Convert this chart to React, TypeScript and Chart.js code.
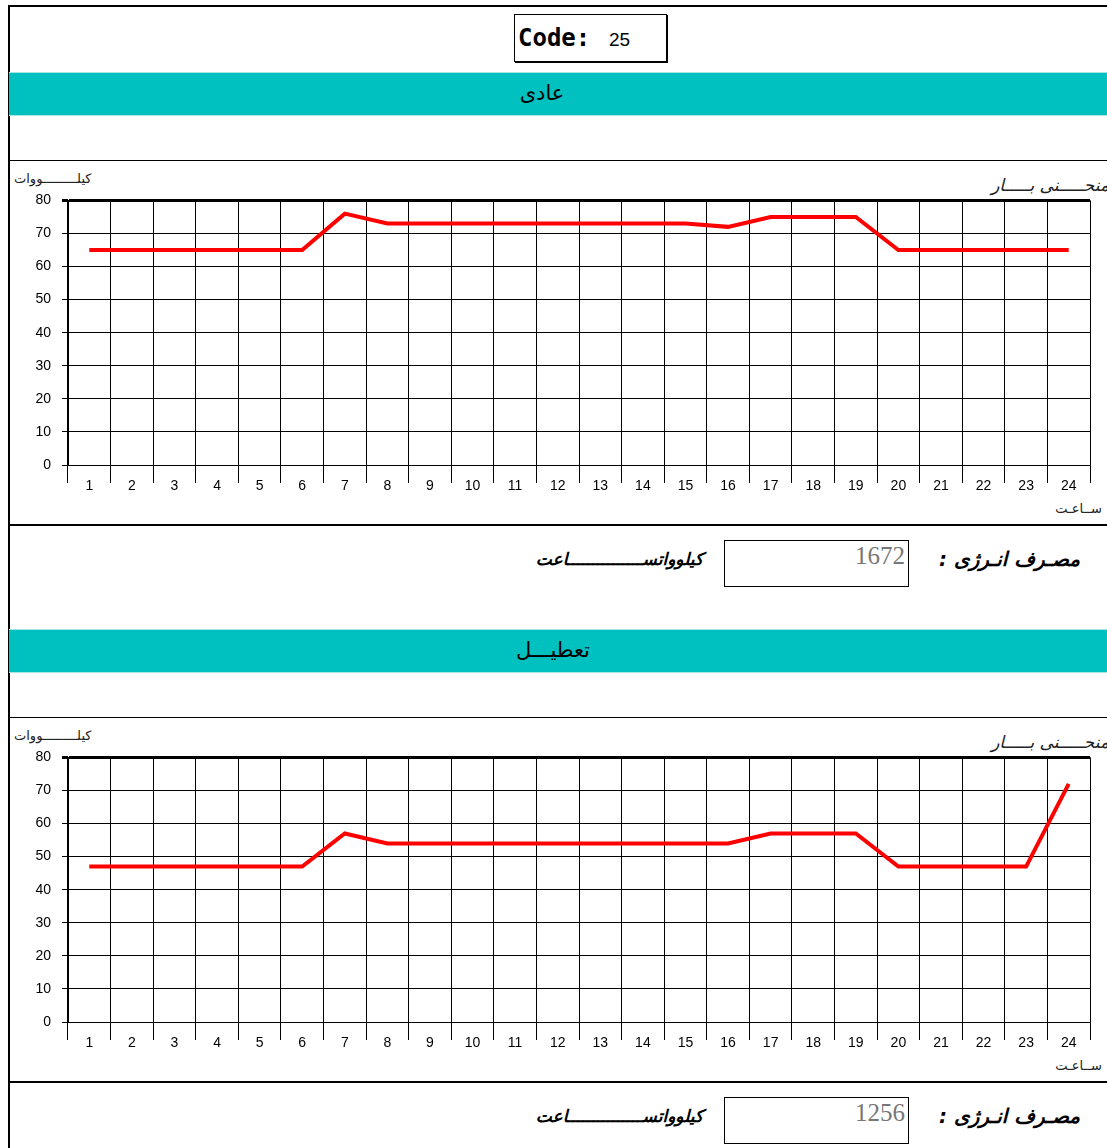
import React, { useEffect, useRef } from "react";
import { Chart, registerables } from "chart.js";

Chart.register(...registerables);

const hours: string[] = ["1","2","3","4","5","6","7","8","9","10","11","12","13","14","15","16","17","18","19","20","21","22","23","24"];
const normalLoad: number[] = [65,65,65,65,65,65,76,73,73,73,73,73,73,73,73,72,75,75,75,65,65,65,65,65];
const holidayLoad: number[] = [47,47,47,47,47,47,57,54,54,54,54,54,54,54,54,54,57,57,57,47,47,47,47,72];
const yMin = 0;
const yMax = 80;
const yStep = 10;
const codeValue = "25";
const normalTitle = "عادی";
const holidayTitle = "تعطیـــل";
const normalEnergy = "1672";
const holidayEnergy = "1256";

const persianFont = "'DejaVu Sans', 'Noto Sans', sans-serif";

function LoadChart({ values }: { values: number[] }) {
  const ref = useRef<HTMLCanvasElement | null>(null);
  useEffect(() => {
    if (!ref.current) return;
    const chart = new Chart(ref.current, {
      type: "line",
      data: {
        labels: hours,
        datasets: [
          {
            data: values,
            borderColor: "#ff0000",
            borderWidth: 4,
            pointRadius: 0,
            tension: 0,
            fill: false,
          },
        ],
      },
      options: {
        responsive: false,
        animation: false,
        devicePixelRatio: 1,
        layout: { padding: { left: 0, right: 17, top: 1, bottom: 0 } },
        plugins: { legend: { display: false }, tooltip: { enabled: false } },
        scales: {
          x: {
            type: "category",
            offset: true,
            grid: { color: "#000", lineWidth: 1, offset: true, tickLength: 18, drawTicks: true },
            border: { color: "#000", width: 1 },
            ticks: { color: "#000", font: { family: "'Liberation Sans', Arial, sans-serif", size: 14 }, padding: -5, maxRotation: 0, autoSkip: false },
            afterFit: (s: any) => { s.height = 35; },
          },
          y: {
            min: yMin,
            max: yMax,
            grid: {
              color: "#000",
              lineWidth: (c: any) => (c.tick && c.tick.value === yMax ? 3 : 1),
              tickLength: 6,
            },
            border: { color: "#000", width: 1 },
            ticks: { stepSize: yStep, color: "#000", font: { family: "'Liberation Sans', Arial, sans-serif", size: 14 }, padding: 11 },
            afterFit: (s: any) => { s.width = 68; },
          },
        },
      },
    });
    return () => chart.destroy();
  }, [values]);
  return <canvas ref={ref} width={1107} height={319} style={{ position: "absolute", left: 0, top: 0, width: 1107, height: 319 }} />;
}

function Section({ top, title, titleCenter, values, energy }: { top: number; title: string; titleCenter: number; values: number[]; energy: string }) {
  const abs: React.CSSProperties = { position: "absolute" };
  return (
    <div style={{ ...abs, left: 0, top, width: 1107, height: 560 }}>
      <div style={{ ...abs, left: 9, top: 0, width: 1098, height: 44, background: "#00c0c0", borderTop: "1px solid #a8e6e6", borderBottom: "1px solid #a8e6e6", boxSizing: "border-box" }} />
      <div dir="rtl" style={{ ...abs, left: titleCenter, top: 6, transform: "translateX(-50%)", whiteSpace: "nowrap", fontFamily: persianFont, fontSize: 21, color: "#000", lineHeight: "30px" }}>{title}</div>
      <div style={{ ...abs, left: 9, top: 88, width: 1098, height: 1, background: "#000" }} />
      <div dir="rtl" style={{ ...abs, left: 14, top: 99, whiteSpace: "nowrap", fontFamily: persianFont, fontSize: 13, color: "#222", lineHeight: "16px" }}>کیلـــــــــووات</div>
      <div dir="rtl" style={{ ...abs, right: -2, top: 102, whiteSpace: "nowrap", fontFamily: persianFont, fontStyle: "italic", fontSize: 17, color: "#222", lineHeight: "22px" }}>منحـــــنی بـــــار</div>
      <div style={{ ...abs, left: 0, top: 109, width: 1107, height: 319 }}>
        <LoadChart values={values} />
      </div>
      <div dir="rtl" style={{ ...abs, right: 5, top: 429, whiteSpace: "nowrap", fontFamily: persianFont, fontSize: 13, color: "#222", lineHeight: "16px" }}>ســاعـت</div>
      <div style={{ ...abs, left: 9, top: 452, width: 1098, height: 2, background: "#000" }} />
      <div dir="rtl" style={{ ...abs, right: 27, top: 474, whiteSpace: "nowrap", fontFamily: persianFont, fontStyle: "italic", fontWeight: "bold", fontSize: 20, color: "#000", lineHeight: "26px" }}>مصـرف انـرژی :</div>
      <div style={{ ...abs, left: 724, top: 468, width: 185, height: 47, border: "1px solid #000", boxSizing: "border-box" }} />
      <div style={{ ...abs, left: 724, top: 469, width: 181, textAlign: "right", fontFamily: "'Liberation Serif', 'DejaVu Serif', serif", fontSize: 25, color: "#777", lineHeight: "29px" }}>{energy}</div>
      <div dir="rtl" style={{ ...abs, right: 404, top: 475, whiteSpace: "nowrap", fontFamily: persianFont, fontStyle: "italic", fontWeight: "bold", fontSize: 17, color: "#000", lineHeight: "24px" }}>کیلوواتســـــــــــــــاعت</div>
    </div>
  );
}

export default function App() {
  return (
    <div style={{ position: "absolute", left: 0, top: 0, width: 1107, height: 1148, background: "#fff", overflow: "hidden" }}>
      <div style={{ position: "absolute", left: 8, top: 5, width: 1110, height: 1160, borderLeft: "2px solid #000", borderTop: "2px solid #000", boxSizing: "border-box" }} />
      <div style={{ position: "absolute", left: 514, top: 14, width: 153, height: 48, border: "1px solid #000", boxSizing: "border-box", boxShadow: "1px 1px 0 #000" }} />
      <div style={{ position: "absolute", left: 518, top: 23, fontFamily: "'DejaVu Sans Mono', 'Liberation Mono', monospace", fontWeight: "bold", fontSize: 24, lineHeight: "30px", color: "#000" }}>Code:</div>
      <div style={{ position: "absolute", left: 609, top: 28, fontFamily: "'Liberation Sans Narrow', 'Liberation Sans', Arial, sans-serif", fontSize: 19, lineHeight: "24px", color: "#000" }}>{codeValue}</div>
      <Section top={72} title={normalTitle} titleCenter={542} values={normalLoad} energy={normalEnergy} />
      <Section top={629} title={holidayTitle} titleCenter={553} values={holidayLoad} energy={holidayEnergy} />
    </div>
  );
}
